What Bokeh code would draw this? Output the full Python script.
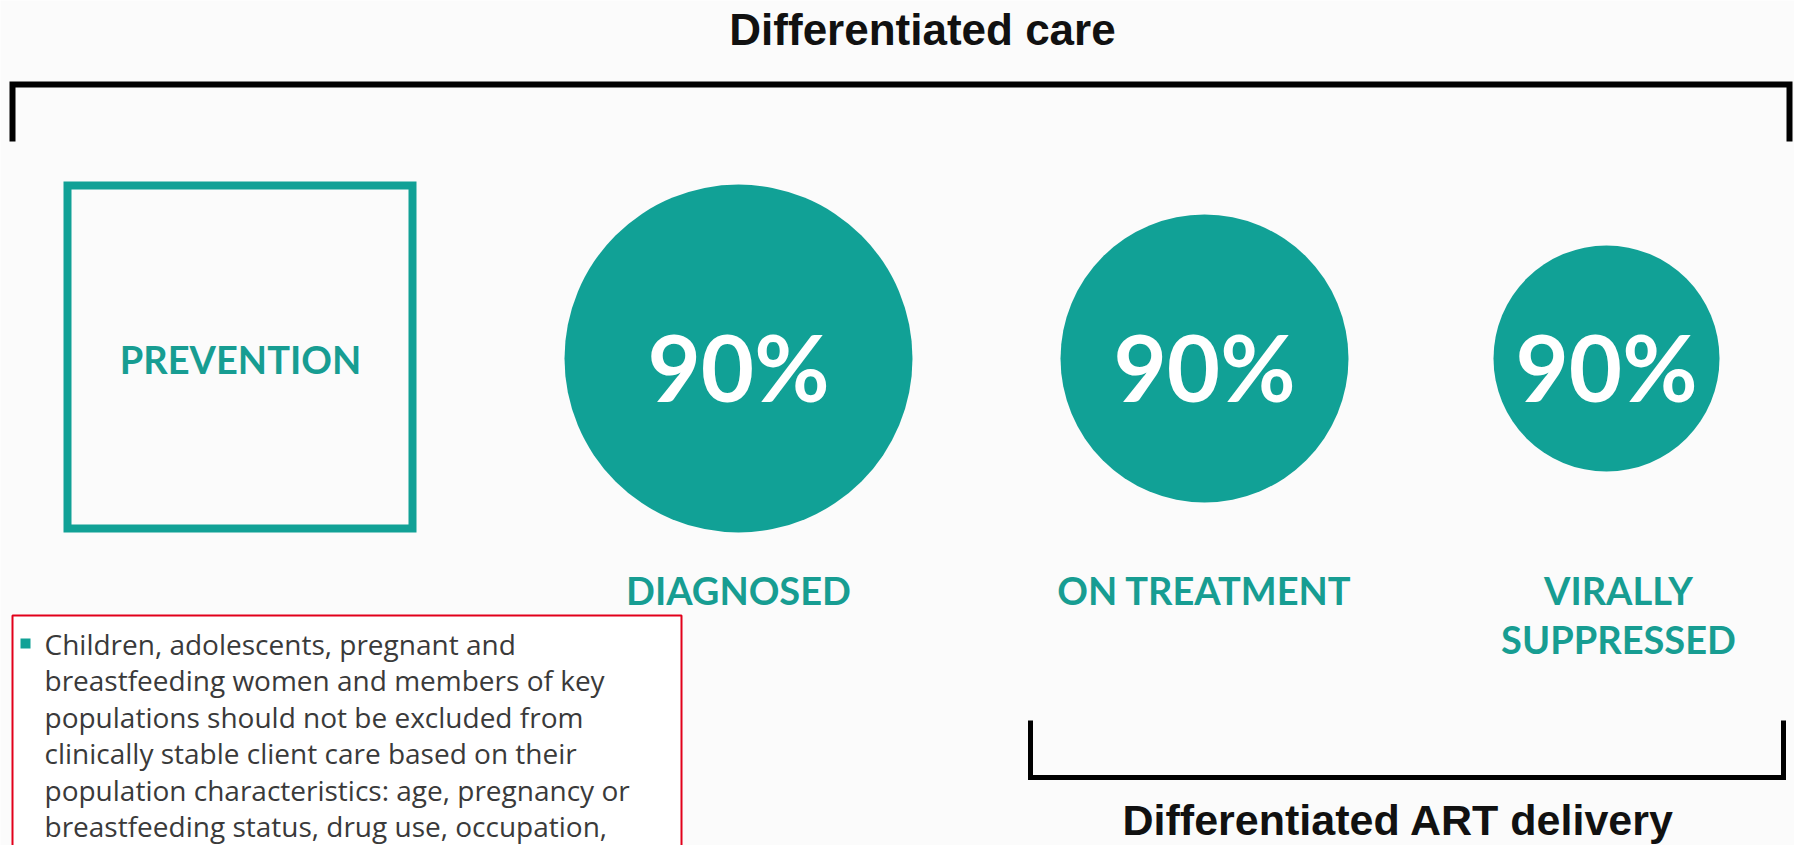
from bokeh.plotting import figure
from bokeh.models import Range1d
from bokeh.core.properties import value
from bokeh.embed import file_html
from bokeh.resources import INLINE

# ---------------- data ----------------
title_top = "Differentiated care"
title_bottom = "Differentiated ART delivery"
prevention_label = "PREVENTION"
stage_labels = ["DIAGNOSED", "ON TREATMENT", "VIRALLY\nSUPPRESSED"]
stage_values = [90, 90, 90]
note_lines = [
    "Children, adolescents, pregnant and",
    "breastfeeding women and members of key",
    "populations should not be excluded from",
    "clinically stable client care based on their",
    "population characteristics: age, pregnancy or",
    "breastfeeding status, drug use, occupation,",
]

# ---------------- layout (pixel space of the picture) ----------------
TEAL = "#11a196"
TEAL_TXT = "#179d92"
BG = "#fbfbfb"
circle_cx = [738, 1204, 1606]
circle_cy = 358
circle_r = [174, 144, 113]
label_y = 589
label_dy = 49

W, H = 1794, 845
p = figure(width=W, height=H, output_backend="svg", toolbar_location=None,
           x_range=Range1d(0, W), y_range=Range1d(H, 0), min_border=0)
p.axis.visible = False
p.grid.visible = False
p.outline_line_color = None
p.background_fill_color = BG
p.border_fill_color = BG

# top bracket
p.line([12, 12, 1789, 1789], [141, 84, 84, 141], line_color="black", line_width=6, line_join="miter")
# bottom bracket
p.line([1030, 1030, 1783, 1783], [720, 777, 777, 720], line_color="black", line_width=5, line_join="miter")

# titles
p.text(x=[922], y=[29], text=[title_top], text_align="center", text_baseline="middle",
       text_font=value("Liberation Sans"), text_font_size=value("44px"), text_font_style="bold",
       text_color="#111111")
p.text(x=[1398], y=[819], text=[title_bottom], text_align="center", text_baseline="middle",
       text_font=value("Liberation Sans"), text_font_size=value("43px"), text_font_style="bold",
       text_color="#111111")

# prevention square
p.quad(left=[67], right=[412], top=[185], bottom=[528], fill_color=None,
       line_color=TEAL, line_width=8, line_join="miter")
p.text(x=[240], y=[358], text=[prevention_label], text_align="center", text_baseline="middle",
       text_font=value("Lato"), text_font_size=value("38px"), text_font_style="bold",
       text_color=TEAL_TXT)

# circles with percentages
p.circle(x=circle_cx, y=[circle_cy] * 3, radius=circle_r, fill_color=TEAL, line_color=None)
p.text(x=circle_cx, y=[circle_cy + 8] * 3, text=["%d%%" % v for v in stage_values],
       text_align="center", text_baseline="middle",
       text_font=value("Lato"), text_font_size=value("92px"), text_font_style="bold",
       text_color="white")

# stage labels (split into lines)
lx, ly, lt = [], [], []
for cx, lab in zip(circle_cx, stage_labels):
    for i, part in enumerate(lab.split("\n")):
        lx.append(cx + (12 if "\n" in lab else 0))
        ly.append(label_y + i * label_dy)
        lt.append(part)
p.text(x=lx, y=ly, text=lt, text_align="center", text_baseline="middle",
       text_font=value("Lato"), text_font_size=value("38px"), text_font_style="bold",
       text_color=TEAL_TXT)

# note box
p.quad(left=[12], right=[681], top=[615], bottom=[880], fill_color="white",
       line_color="#e2001a", line_width=2)
p.quad(left=[20], right=[30], top=[638], bottom=[648], fill_color=TEAL, line_color=None)
p.text(x=[44] * len(note_lines), y=[643 + 36.5 * i for i in range(len(note_lines))], text=note_lines,
       text_align="left", text_baseline="middle",
       text_font=value("Open Sans"), text_font_size=value("28px"),
       text_color="#3a3a3a")

open("out.html", "w").write(file_html(p, INLINE))
